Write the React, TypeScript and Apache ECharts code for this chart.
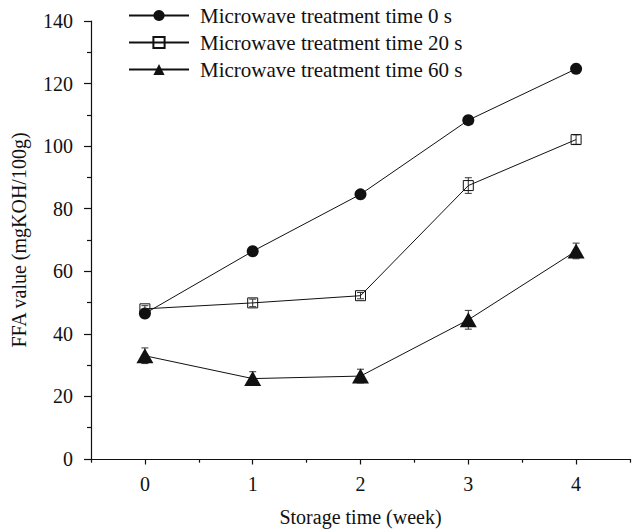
import React, { useEffect, useRef } from "react";
import * as echarts from "echarts";

const weeks = ["0", "1", "2", "3", "4"];
const seriesNames = [
  "Microwave treatment time 0 s",
  "Microwave treatment time 20 s",
  "Microwave treatment time 60 s",
];
const ffa0s = [46.5, 66.4, 84.6, 108.3, 124.7];
const ffa20s = [48.0, 49.9, 52.2, 87.4, 102.1];
const ffa60s = [33.0, 25.7, 26.5, 44.5, 66.5];
const err0s = [1.2, 1.0, 1.0, 1.0, 1.5];
const err20s = [1.0, 1.2, 1.0, 2.5, 1.5];
const err60s = [2.5, 2.2, 2.2, 3.0, 2.5];
const yTicks = { min: 0, max: 140, interval: 20 };

const FONT = "Liberation Serif";
const FS = 20;

function errorSeries(vals: number[], errs: number[]) {
  return {
    type: "custom",
    silent: true,
    z: 1,
    data: vals.map((v, i) => [i, v, errs[i]]),
    renderItem: (params: any, api: any) => {
      const x = api.value(0);
      const v = api.value(1);
      const e = api.value(2);
      const top = api.coord([x, v + e]);
      const bot = api.coord([x, v - e]);
      const cap = 3.5;
      const style = { stroke: "#333", lineWidth: 1 };
      return {
        type: "group",
        children: [
          { type: "line", shape: { x1: top[0], y1: top[1], x2: bot[0], y2: bot[1] }, style },
          { type: "line", shape: { x1: top[0] - cap, y1: top[1], x2: top[0] + cap, y2: top[1] }, style },
          { type: "line", shape: { x1: bot[0] - cap, y1: bot[1], x2: bot[0] + cap, y2: bot[1] }, style },
        ],
      };
    },
  };
}

export default function App() {
  const ref = useRef<HTMLDivElement>(null);
  useEffect(() => {
    if (!ref.current) return;
    const chart = echarts.init(ref.current, null, { renderer: "svg" });
    const lineStyle = { color: "#111", width: 1 };
    chart.setOption({
      animation: false,
      backgroundColor: "#fff",
      textStyle: { fontFamily: FONT },
      grid: { left: 91, right: 7, top: 21, bottom: 70, containLabel: false },
      legend: {
        orient: "vertical",
        left: 123,
        top: 0,
        itemWidth: 60,
        itemHeight: 14,
        itemGap: 6,
        textStyle: { fontFamily: FONT, fontSize: 21, color: "#111", padding: [0, 0, 0, 6] },
        data: seriesNames,
      },
      xAxis: [
        {
          type: "category",
          data: weeks,
          boundaryGap: true,
          position: "bottom",
          axisLine: { show: true, lineStyle: { color: "#111", width: 1.2 } },
          axisTick: { show: true, alignWithLabel: true, length: 5.5, lineStyle: { color: "#111", width: 1.2 } },
          axisLabel: { fontFamily: FONT, fontSize: FS, color: "#111", margin: 15 },
          name: "Storage time (week)",
          nameLocation: "middle",
          nameGap: 48,
          nameTextStyle: { fontFamily: FONT, fontSize: FS, color: "#111" },
          splitLine: { show: false },
        },
        {
          type: "category",
          data: weeks,
          boundaryGap: true,
          position: "bottom",
          axisLine: { show: false },
          axisTick: { show: true, alignWithLabel: false, length: 3.7, lineStyle: { color: "#111", width: 1.2 } },
          axisLabel: { show: false },
          splitLine: { show: false },
        },
      ],
      yAxis: {
        type: "value",
        min: yTicks.min,
        max: yTicks.max,
        interval: yTicks.interval,
        axisLine: { show: true, lineStyle: { color: "#111", width: 1.2 } },
        axisTick: { show: true, length: 7, lineStyle: { color: "#111", width: 1.2 } },
        minorTick: { show: true, splitNumber: 2, length: 4, lineStyle: { color: "#111", width: 1.2 } },
        axisLabel: { fontFamily: FONT, fontSize: FS, color: "#111", margin: 18 },
        splitLine: { show: false },
        name: "FFA value (mgKOH/100g)",
        nameLocation: "middle",
        nameGap: 62,
        nameTextStyle: { fontFamily: FONT, fontSize: FS, color: "#111" },
      },
      series: [
        errorSeries(ffa0s, err0s),
        errorSeries(ffa20s, err20s),
        errorSeries(ffa60s, err60s),
        {
          name: seriesNames[0],
          type: "line",
          data: ffa0s,
          symbol: "circle",
          symbolSize: 12,
          itemStyle: { color: "#111" },
          lineStyle,
          z: 3,
        },
        {
          name: seriesNames[1],
          type: "line",
          data: ffa20s,
          symbol: "rect",
          symbolSize: 10,
          itemStyle: { color: "rgba(255,255,255,0)", borderColor: "#111", borderWidth: 1 },
          lineStyle,
          z: 3,
        },
        {
          name: seriesNames[2],
          type: "line",
          data: ffa60s,
          symbol: "triangle",
          symbolSize: [17, 15],
          itemStyle: { color: "#111" },
          lineStyle,
          z: 3,
        },
      ],
    });
    return () => chart.dispose();
  }, []);
  return (
    <div
      ref={ref}
      style={{ position: "fixed", left: 0, top: 0, width: 637, height: 532 }}
    />
  );
}
